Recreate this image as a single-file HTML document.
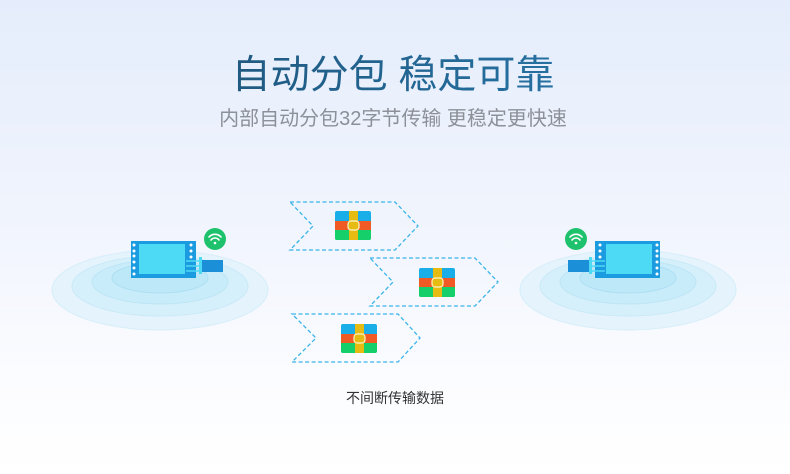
<!DOCTYPE html>
<html><head><meta charset="utf-8"><style>
html,body{margin:0;padding:0}
body{width:790px;height:474px;overflow:hidden;position:relative;background:linear-gradient(180deg,#e5edfc 0%,#f0f4fd 45%,#fbfcff 80%,#ffffff 100%);font-family:"Liberation Sans","Noto Sans CJK SC",sans-serif}
.t{position:absolute;left:0;width:790px;text-align:center;white-space:nowrap}
#h{top:52px;font-size:39px;line-height:48px;font-weight:400;background:linear-gradient(90deg,#1b4a6a,#2a80b8);-webkit-background-clip:text;background-clip:text;color:transparent;left:-2px}
#s{top:106px;font-size:20px;line-height:26px;color:#8c9099;left:-2px}
#c{top:388px;font-size:14px;line-height:20px;color:#333}
svg{position:absolute;left:0;top:0}
</style></head><body>
<div class="t" id="h">自动分包 稳定可靠</div>
<div class="t" id="s">内部自动分包32字节传输 更稳定更快速</div>
<div class="t" id="c">不间断传输数据</div>
<svg width="790" height="474" viewBox="0 0 790 474">
<defs>
<g id="dev">
<ellipse cx="0" cy="0" rx="108" ry="40" fill="#e4f3fc" stroke="#d6eef9"/>
<ellipse cx="0" cy="-4" rx="88" ry="30" fill="#d6f0fb" stroke="#c9e9f7"/>
<ellipse cx="0" cy="-8" rx="68" ry="22" fill="#c8ecfa" stroke="#bde5f5"/>
<ellipse cx="0" cy="-12" rx="48" ry="15" fill="#bde8f8" stroke="#aedff2"/>
</g>
<g id="pkg">
<rect x="0" y="0" width="36" height="29" rx="2" fill="#1aaee8"/>
<rect x="0" y="10" width="36" height="9" fill="#f05a24"/>
<rect x="0" y="19" width="36" height="10" rx="2" fill="#14cf6a"/>
<rect x="0" y="19" width="36" height="3" fill="#14cf6a"/>
<rect x="14" y="0" width="9" height="29" fill="#e6bc12"/>
<rect x="13" y="10" width="11" height="9" rx="3" fill="#e6bc12" stroke="#fff5c8" stroke-width="1.2"/>
</g>
</defs>
<use href="#dev" x="160" y="290"/>
<use href="#dev" x="628" y="290"/>
<rect x="131" y="241" width="65" height="37" fill="#1b9be0"/>
<rect x="139" y="244" width="46" height="30" fill="#4ddaf5"/>
<g fill="#fff"><circle cx="134" cy="245" r="1.5"/><circle cx="134" cy="251" r="1.5"/><circle cx="134" cy="256" r="1.5"/><circle cx="134" cy="262" r="1.5"/><circle cx="134" cy="268" r="1.5"/><circle cx="134" cy="274" r="1.5"/><circle cx="191" cy="245" r="1.5"/><circle cx="191" cy="251" r="1.5"/><circle cx="191" cy="257" r="1.5"/></g>
<g stroke="#4ddaf5" stroke-width="1.5"><line x1="186" y1="261" x2="200" y2="261"/><line x1="186" y1="266" x2="200" y2="266"/><line x1="186" y1="271" x2="200" y2="271"/></g>
<rect x="199" y="257" width="3" height="17" fill="#4ddaf5"/>
<rect x="202" y="260" width="21" height="12" fill="#1b8fd8"/>
<circle cx="215" cy="239" r="11" fill="#1ec26c"/>
<g fill="none" stroke="#fff" stroke-width="1.6" stroke-linecap="round"><path d="M209 237 a8 8 0 0 1 12 0"/><path d="M211 240 a5 5 0 0 1 8 0"/></g><circle cx="215" cy="243" r="1.3" fill="#fff"/>
<rect x="595" y="241" width="65" height="37" fill="#1b9be0"/>
<rect x="606" y="244" width="46" height="30" fill="#4ddaf5"/>
<g fill="#fff"><circle cx="657" cy="245" r="1.5"/><circle cx="657" cy="251" r="1.5"/><circle cx="657" cy="256" r="1.5"/><circle cx="657" cy="262" r="1.5"/><circle cx="657" cy="268" r="1.5"/><circle cx="657" cy="274" r="1.5"/><circle cx="600" cy="245" r="1.5"/><circle cx="600" cy="251" r="1.5"/><circle cx="600" cy="257" r="1.5"/></g>
<g stroke="#4ddaf5" stroke-width="1.5"><line x1="591" y1="261" x2="605" y2="261"/><line x1="591" y1="266" x2="605" y2="266"/><line x1="591" y1="271" x2="605" y2="271"/></g>
<rect x="589" y="257" width="3" height="17" fill="#4ddaf5"/>
<rect x="568" y="260" width="21" height="12" fill="#1b8fd8"/>
<circle cx="576" cy="239" r="11" fill="#1ec26c"/>
<g fill="none" stroke="#fff" stroke-width="1.6" stroke-linecap="round"><path d="M570 237 a8 8 0 0 1 12 0"/><path d="M572 240 a5 5 0 0 1 8 0"/></g><circle cx="576" cy="243" r="1.3" fill="#fff"/>
<g fill="none" stroke="#3ab4ea" stroke-width="1.3" stroke-dasharray="4 2.5">
<polygon points="290,202 395,202 418,226 395,250 290,250 313,226"/>
<polygon points="370,258 475,258 498,282 475,306 370,306 393,282"/>
<polygon points="292,314 398,314 420,338 398,362 292,362 316,338"/>
</g>
<use href="#pkg" x="335" y="211"/>
<use href="#pkg" x="419" y="268"/>
<use href="#pkg" x="341" y="324"/>
</svg>
</body></html>
